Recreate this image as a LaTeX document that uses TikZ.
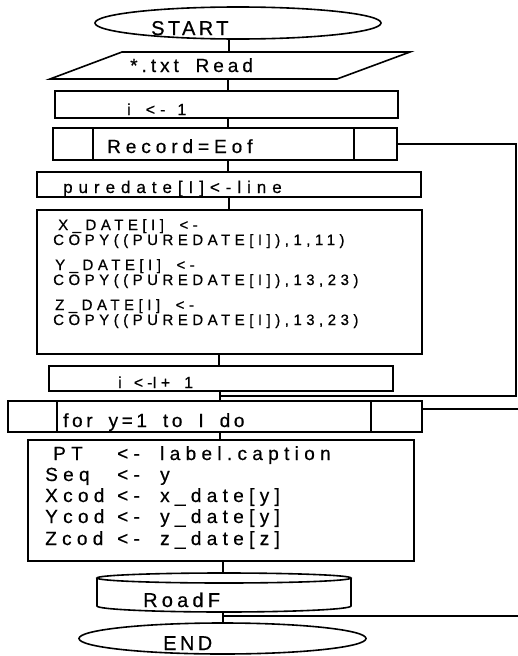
\documentclass[tikz,border=0pt]{standalone}
\usepackage{fontspec}
\setmainfont{Liberation Sans}
\newfontfamily\gf[WordSpace=1.8,FakeBold=0.6]{Liberation Sans}
\usetikzlibrary{shapes.geometric}
\newcommand\fsz[2]{\gf\fontsize{#1}{#1}\selectfont\addfontfeature{LetterSpace=#2}}
\tikzset{
  ln/.style={line width=1.6pt},
  boxs/.style={draw, line width=1.6pt, rectangle, inner sep=0pt, anchor=north west},
  term/.style={draw, line width=1.6pt, ellipse, inner sep=0pt},
  txt/.style={anchor=base west, inner sep=0pt},
}
\begin{document}
\begin{tikzpicture}[x=1pt,y=1pt]
\useasboundingbox (0,0) rectangle (518,-656);
% spine x coordinates
\coordinate (xa) at (228,0);
\coordinate (xb) at (229,0);
\coordinate (xc) at (219,0);
\coordinate (xd) at (220,0);
\coordinate (xe) at (223,0);
% START
\node[term, minimum width=286pt, minimum height=32pt] (start) at (238,-23) {};
\node[txt, font=\fsz{20}{17}] (tstart) at (151,-35) {START};
% read (parallelogram)
\coordinate (readtop) at (229,-52);
\coordinate (readbot) at (228,-79);
\draw[ln] (122,-52) -- (410,-52) -- (337,-79) -- (50,-79) -- cycle;
\node[txt, font=\fsz{19}{21}] (tread) at (130,-72) {*.txt Read};
% i <- 1
\node[boxs, minimum width=343pt, minimum height=27pt] (i1) at (54,-90) {};
\node[txt, font=\fsz{16}{25}] (ti1) at (127,-115) {i\hspace{15pt}<\hspace{5pt}-\hspace{12pt}1};
% Record=Eof
\node[boxs, minimum width=344pt, minimum height=32pt] (record) at (52,-127) {};
\draw[ln] (93,-127) -- (93,-159);
\draw[ln] (354,-127) -- (354,-159);
\node[txt, font=\fsz{19}{26}] (trecord) at (107,-153) {Record=Eof};
% puredate
\node[boxs, minimum width=384pt, minimum height=25pt] (pure) at (36,-171) {};
\node[txt, font=\fsz{17}{35}] (tpure) at (63,-193) {puredate[I]<-line};
% big box
\node[boxs, minimum width=385pt, minimum height=144pt] (big) at (36,-209) {};
\node[txt, font=\fsz{15}{30}] (tx1) at (58,-230) {X\_DATE[I] <-};
\node[txt, font=\fsz{15}{30}] (tx2) at (53,-245) {COPY((PUREDATE[I]),1,11)};
\node[txt, font=\fsz{15}{30}] (ty1) at (55,-270) {Y\_DATE[I] <-};
\node[txt, font=\fsz{15}{30}] (ty2) at (53,-285) {COPY((PUREDATE[I]),13,23)};
\node[txt, font=\fsz{15}{30}] (tz1) at (55,-310) {Z\_DATE[I] <-};
\node[txt, font=\fsz{15}{30}] (tz2) at (53,-325) {COPY((PUREDATE[I]),13,23)};
% i <- I+1
\node[boxs, minimum width=344pt, minimum height=25pt] (i2) at (48,-365) {};
\node[txt, font=\fsz{16}{25}] (ti2) at (118,-388) {i\hspace{12pt}<\hspace{4pt}-\hspace{0pt}I+\hspace{14pt}1};
% for
\node[boxs, minimum width=414pt, minimum height=31pt] (forb) at (7,-400) {};
\draw[ln] (57,-400) -- (57,-431);
\draw[ln] (371,-400) -- (371,-431);
\node[txt, font=\fsz{19}{19}] (tfor) at (63,-427) {for y=1 to I do};
% box2
\node[boxs, minimum width=386pt, minimum height=121pt] (box2) at (27,-439) {};
\node[txt, font=\fsz{19}{28}] (tp1) at (53,-460) {\makebox[64pt][l]{PT}\makebox[43pt][l]{<-}label.caption};
\node[txt, font=\fsz{19}{28}] (tp2) at (45,-481) {\makebox[72pt][l]{Seq}\makebox[43pt][l]{<-}y};
\node[txt, font=\fsz{19}{28}] (tp3) at (45,-502) {\makebox[72pt][l]{Xcod}\makebox[43pt][l]{<-}x\_date[y]};
\node[txt, font=\fsz{19}{28}] (tp4) at (45,-523) {\makebox[72pt][l]{Ycod}\makebox[43pt][l]{<-}y\_date[y]};
\node[txt, font=\fsz{19}{28}] (tp5) at (45,-545) {\makebox[72pt][l]{Zcod}\makebox[43pt][l]{<-}z\_date[z]};
% RoadF
\coordinate (roadtop) at (223,-573);
\coordinate (roadbot) at (223,-612);
\draw[ln] (224,-578) ellipse[x radius=127pt, y radius=5pt];
\draw[ln] (97,-578) -- (97,-606) arc[start angle=180, end angle=360, x radius=127pt, y radius=6pt] -- (351,-578);
\node[txt, font=\fsz{20}{21}] (troad) at (143,-607) {RoadF};
% END
\node[term, minimum width=287pt, minimum height=31pt] (endn) at (222.5,-638.5) {};
\node[txt, font=\fsz{20}{17}] (tend) at (163,-650) {END};
% connectors
\draw[ln] (start.south -| readtop) -- (readtop);
\draw[ln] (readbot) -- (readbot |- i1.north);
\draw[ln] (i1.south -| xa) -- (record.north -| xa);
\draw[ln] (record.south -| xa) -- (pure.north -| xa);
\draw[ln] (pure.south -| xb) -- (big.north -| xb);
\draw[ln] (big.south -| xc) -- (i2.north -| xc);
\draw[ln] (i2.south -| xd) -- (forb.north -| xd);
\draw[ln] (forb.south -| xd) -- (box2.north -| xd);
\draw[ln] (box2.south -| xe) -- (roadtop);
\draw[ln] (roadbot) -- (endn.north -| xe);
% loop back
\coordinate (rc) at (516,-396);
\coordinate (loopin) at (220,-396);
\draw[ln] (record.east) -| (rc) -- (loopin);
% right exits
\coordinate (forout) at (518,-409);
\draw[ln] (forb.east |- forout) -- (forout);
\coordinate (roadout) at (518,-616);
\draw[ln] (roadbot |- roadout) -- (roadout);
\end{tikzpicture}
\end{document}
